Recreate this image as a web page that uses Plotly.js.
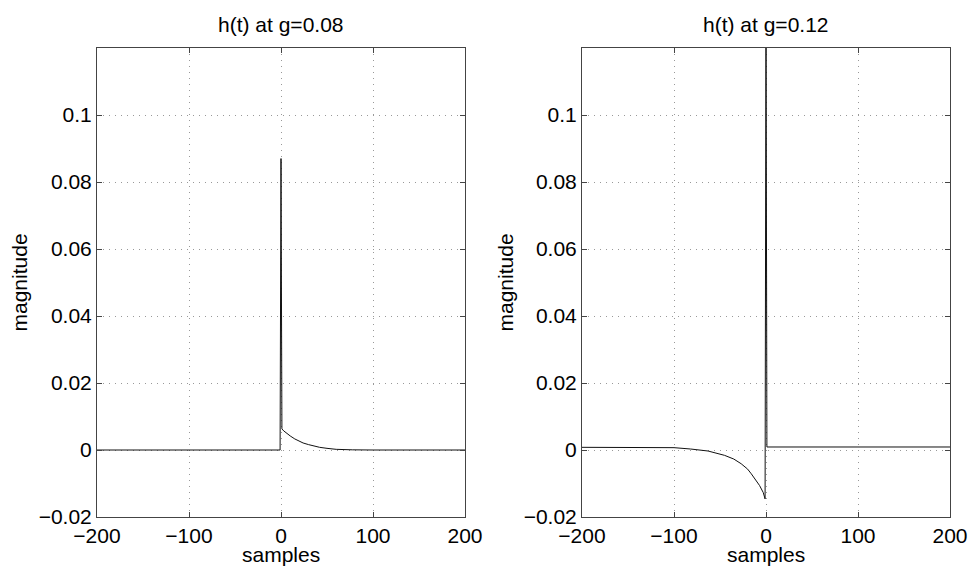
<!DOCTYPE html>
<html>
<head>
<meta charset="utf-8">
<script src="https://cdn.plot.ly/plotly-3.0.1.min.js"></script>
<style>html,body{margin:0;padding:0;background:#fff}#chart{width:969px;height:567px}</style>
</head>
<body>
<div id="chart"></div>
<script>
// Left panel: g = 0.08
const samplesLeft = [-200, -1, 0, 1, 3, 6, 10, 15, 20, 24, 30, 42, 50, 60, 78, 100, 200];
const hLeft       = [0, 0, 0.087, 0.0063, 0.0057, 0.005, 0.0042, 0.0033, 0.0026, 0.0021, 0.0016, 0.0008, 0.0005, 0.0002, 0.00005, 0, 0];

// Right panel: g = 0.12
const samplesRight = [-200, -136, -100, -82, -63, -45, -35, -27, -20, -16, -10, -7, -3, -1, 0, 1, 200];
const hRight       = [0.0008, 0.0008, 0.0007, 0.0003, -0.0003, -0.0016, -0.0027, -0.0041, -0.0057, -0.0071, -0.0092, -0.0106, -0.0127, -0.0146, 0.135, 0.0009, 0.0009];

const titles = ["h(t) at g=0.08", "h(t) at g=0.12"];
const xLabel = "samples";
const yLabel = "magnitude";
const yTickVals = [-0.02, 0, 0.02, 0.04, 0.06, 0.08, 0.1];
const yTickText = ["\u22120.02", "0", "0.02", "0.04", "0.06", "0.08", "0.1"];
const xTickVals = [-200, -100, 0, 100, 200];
const xTickText = ["\u2212200", "\u2212100", "0", "100", "200"];

const FONT = "Liberation Sans, Arial, Helvetica, sans-serif";
const FS = 21;
const W = 969, H = 567;
const leftDom = [97 / W, 465 / W];
const rightDom = [582 / W, 950 / W];
const yDom = [1 - 517 / H, 1 - 48 / H];

const traces = [
  {x: samplesLeft, y: hLeft, xaxis: 'x', yaxis: 'y', type: 'scatter', mode: 'lines',
   line: {color: '#111', width: 1}, hoverinfo: 'skip'},
  {x: samplesRight, y: hRight, xaxis: 'x2', yaxis: 'y2', type: 'scatter', mode: 'lines',
   line: {color: '#111', width: 1}, hoverinfo: 'skip'}
];

const common = {
  ticks: 'inside', ticklen: 5, tickcolor: '#444', mirror: 'ticks',
  showline: true, linecolor: '#444', linewidth: 1,
  showgrid: true, gridcolor: '#999', griddash: '1px,5px', gridwidth: 1,
  zeroline: false, tickfont: {family: FONT, size: FS, color: '#000'}
};

function xax(dom, anchor) {
  return Object.assign({}, common, {
    domain: dom, anchor: anchor, range: [-200, 200],
    tickmode: 'array', tickvals: xTickVals, ticktext: xTickText
  });
}
function yax(anchor) {
  return Object.assign({}, common, {
    domain: yDom, anchor: anchor, range: [-0.02, 0.12],
    tickmode: 'array', tickvals: yTickVals, ticktext: yTickText
  });
}

const tfont = {family: FONT, size: FS, color: '#000'};
const midY = (yDom[0] + yDom[1]) / 2;
const annotations = [];
[leftDom, rightDom].forEach((dom, i) => {
  const cx = (dom[0] + dom[1]) / 2;
  annotations.push({text: titles[i], xref: 'paper', yref: 'paper', x: cx, y: 1 - 24 / H,
    xanchor: 'center', yanchor: 'middle', showarrow: false, font: tfont});
  annotations.push({text: xLabel, xref: 'paper', yref: 'paper', x: cx, y: 1 - 554 / H,
    xanchor: 'center', yanchor: 'middle', showarrow: false, font: tfont, borderpad: 0});
});
annotations.push({text: yLabel, xref: 'paper', yref: 'paper', x: 19 / W, y: midY, textangle: -90,
  xanchor: 'center', yanchor: 'middle', showarrow: false, font: tfont});
annotations.push({text: yLabel, xref: 'paper', yref: 'paper', x: 505 / W, y: midY, textangle: -90,
  xanchor: 'center', yanchor: 'middle', showarrow: false, font: tfont});

const layout = {
  width: W, height: H,
  margin: {l: 0, r: 0, t: 0, b: 0},
  paper_bgcolor: '#fff', plot_bgcolor: '#fff',
  showlegend: false,
  font: tfont,
  xaxis: xax(leftDom, 'y'),
  yaxis: yax('x'),
  xaxis2: xax(rightDom, 'y2'),
  yaxis2: yax('x2'),
  annotations: annotations
};

Plotly.newPlot('chart', traces, layout, {staticPlot: true, displayModeBar: false});
</script>
</body>
</html>
